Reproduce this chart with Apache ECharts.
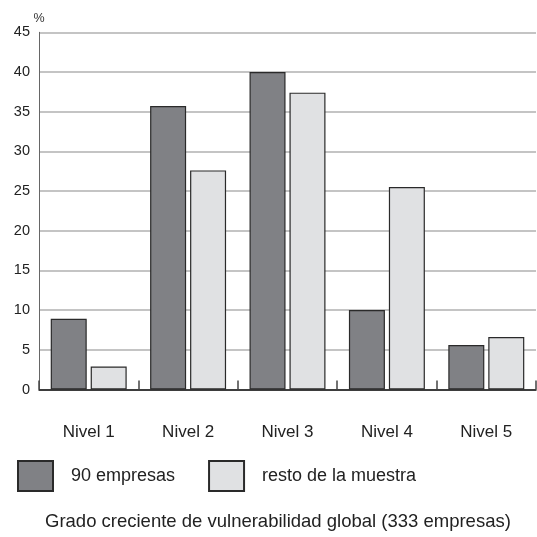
<!DOCTYPE html>
<html>
<head>
<meta charset="utf-8">
<style>
html,body{margin:0;padding:0;background:#fff;}
#chart{width:537px;height:537px;}
</style>
<script src="https://cdn.jsdelivr.net/npm/echarts@6/dist/echarts.min.js"></script>
</head>
<body>
<div id="chart"></div>
<script>
const categories = ['Nivel 1', 'Nivel 2', 'Nivel 3', 'Nivel 4', 'Nivel 5'];
const seriesNames = ['90 empresas', 'resto de la muestra'];
const empresas90 = [8.9, 35.7, 40.0, 10.0, 5.6];
const restoMuestra = [2.9, 27.6, 37.4, 25.5, 6.6];
const yTicks = [0, 5, 10, 15, 20, 25, 30, 35, 40, 45];
const chartTitle = 'Grado creciente de vulnerabilidad global (333 empresas)';

const FONT = '"Liberation Sans", Arial, sans-serif';
const chart = echarts.init(document.getElementById('chart'), null, {renderer: 'canvas'});
chart.setOption({
  animation: false,
  backgroundColor: '#ffffff',
  textStyle: {fontFamily: FONT, color: '#222'},
  title: {
    text: chartTitle,
    left: 40,
    top: 507,
    textStyle: {fontFamily: FONT, fontSize: 18.5, fontWeight: 'normal', color: '#222'}
  },
  legend: {
    left: 12,
    top: 455,
    itemWidth: 35,
    itemHeight: 30,
    itemGap: 33,
    icon: 'rect',
    textStyle: {fontFamily: FONT, fontSize: 18, color: '#222', padding: [0, 0, 0, 13]},
    data: seriesNames
  },
  grid: {left: 39, right: 1, top: 32.3, bottom: 147.5, containLabel: false},
  xAxis: {
    type: 'category',
    data: categories,
    axisLine: {show: true, lineStyle: {color: '#111', width: 1.5}},
    axisTick: {show: true, inside: true, length: 9, alignWithLabel: false, lineStyle: {color: '#444', width: 1.5}},
    axisLabel: {fontFamily: FONT, fontSize: 17, color: '#222', margin: 34},
    splitLine: {show: false}
  },
  yAxis: {
    type: 'value',
    min: yTicks[0],
    max: yTicks[yTicks.length - 1],
    interval: 5,
    name: '%',
    nameLocation: 'end',
    nameGap: 7,
    nameTextStyle: {fontFamily: FONT, fontSize: 12.5, color: '#333', align: 'center'},
    axisLine: {show: true, lineStyle: {color: '#666', width: 1}},
    axisTick: {show: false},
    axisLabel: {fontFamily: FONT, fontSize: 14.5, color: '#222', margin: 9, padding: [6, 0, 0, 0]},
    splitLine: {show: true, lineStyle: {color: '#b0b0b0', width: 1.5}}
  },
  series: [
    {
      name: seriesNames[0],
      type: 'bar',
      data: empresas90,
      barWidth: 36,
      barGap: '11%',
      itemStyle: {color: '#808185', borderColor: '#2a2a2a', borderWidth: 1.2}
    },
    {
      name: seriesNames[1],
      type: 'bar',
      data: restoMuestra,
      barWidth: 36,
      barGap: '11%',
      itemStyle: {color: '#e0e1e3', borderColor: '#2a2a2a', borderWidth: 1.2}
    }
  ]
});
</script>
</body>
</html>
